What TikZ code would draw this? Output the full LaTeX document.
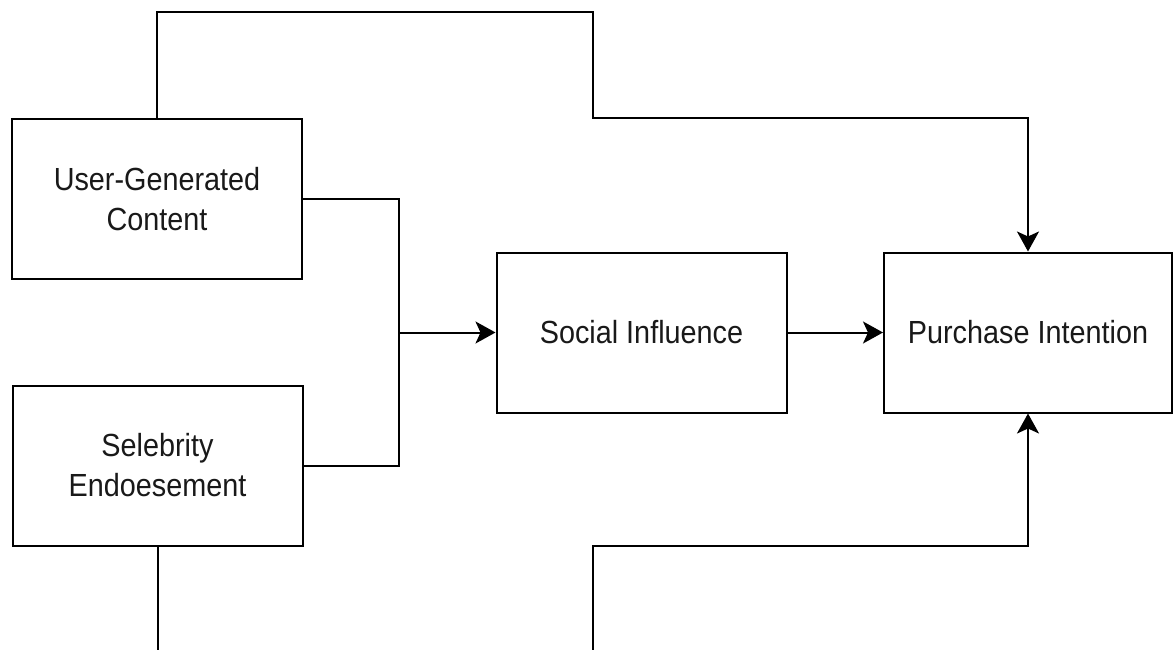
\documentclass[tikz,border=0pt]{standalone}
\usepackage{fontspec}
\setmainfont[FakeStretch=0.9]{Liberation Sans}
\usetikzlibrary{arrows.meta}
\begin{document}
\begin{tikzpicture}[x=1pt,y=-1pt,
  box/.style={draw=black, line width=2pt, rectangle, minimum width=290pt, minimum height=160pt,
    inner sep=0pt, align=center, font=\fontsize{32}{40}\selectfont, text=black!90},
  conn/.style={draw=black, line width=2pt},
  arr/.style={conn, -{Stealth[length=20pt, width=22pt, inset=5pt]}}]
\useasboundingbox (0,0) rectangle (1173,650);
\node[box] (ugc) at (157,199) {User-Generated\\Content};
\node[box] (se) at (157.5,465.5) {Selebrity\\Endoesement};
\node[box] (si) at (641.5,332.5) {Social Influence};
\node[box, minimum width=288pt] (pi) at (1028,332.5) {Purchase Intention};
\coordinate (t1) at (157,12);
\coordinate (t2) at (593,12);
\coordinate (t3) at (593,118);
\coordinate (t4) at (1028,118);
\coordinate (j) at (399,332.5);
\coordinate (b0) at (157.5,651);
\coordinate (b1) at (593,651);
\coordinate (b2) at (593,546);
\coordinate (b3) at (1028,546);
\draw[arr] (ugc.north) -- (t1) -- (t2) -- (t3) -- (t4) -- (pi.north);
\draw[conn] (ugc.east) -| (j);
\draw[conn] (se.east) -| (j);
\draw[arr] (j) -- (si.west);
\draw[arr] (si.east) -- (pi.west);
\draw[conn] (se.south) -- (b0);
\draw[arr] (b1) -- (b2) -- (b3) -- (pi.south);
\end{tikzpicture}
\end{document}
